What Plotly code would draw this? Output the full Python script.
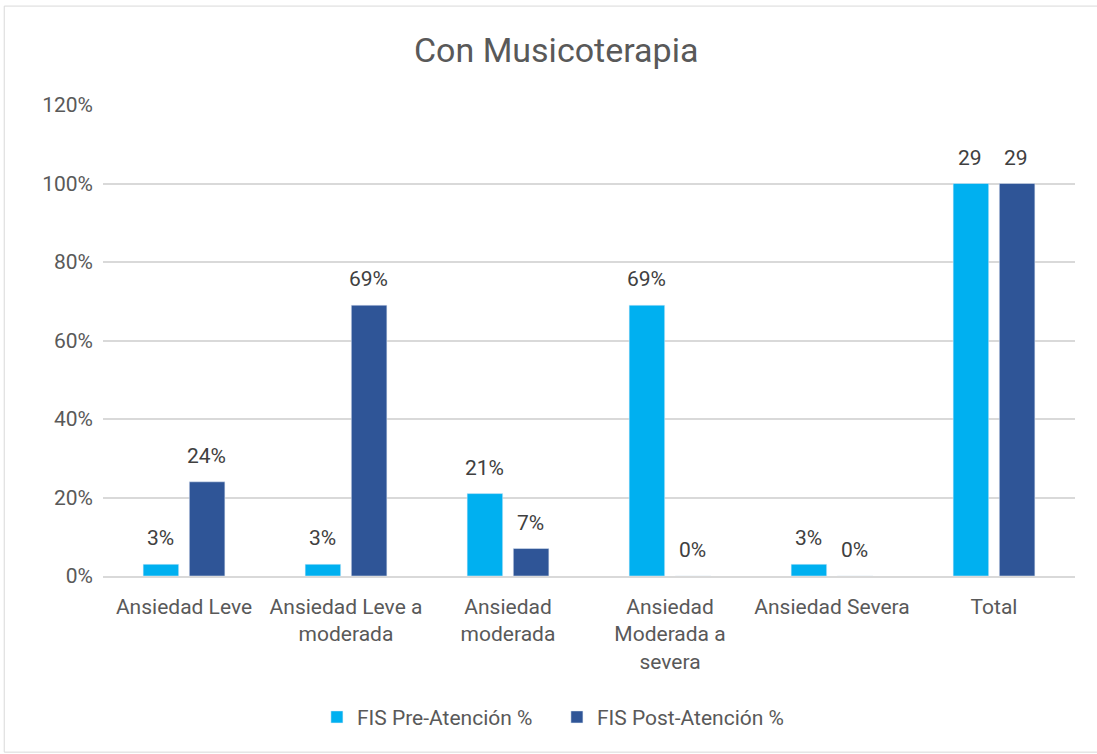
import plotly.graph_objects as go

categories = ["Ansiedad Leve", "Ansiedad Leve a<br>moderada", "Ansiedad<br>moderada",
              "Ansiedad<br>Moderada a<br>severa", "Ansiedad Severa", "Total"]
pre_values = [0.03, 0.03, 0.21, 0.69, 0.03, 1.00]
post_values = [0.24, 0.69, 0.07, 0.00, 0.00, 1.00]
pre_labels = ["3%", "3%", "21%", "69%", "3%", "29"]
post_labels = ["24%", "69%", "7%", "0%", "0%", "29"]
tick_vals = [0, 0.2, 0.4, 0.6, 0.8, 1.0, 1.2]
tick_text = ["0%", "20%", "40%", "60%", "80%", "100%", "120%"]

FONT = "Roboto, sans-serif"
TXT = "#595959"
LBL = "#404040"

fig = go.Figure()
fig.add_trace(go.Bar(name="FIS Pre-Atención %", x=categories, y=pre_values,
                     marker_color="#00B0F0"))
fig.add_trace(go.Bar(name="FIS Post-Atención %", x=categories, y=post_values,
                     marker_color="#2F5597"))

annotations = []
for cat, v, t in zip(categories, pre_values, pre_labels):
    annotations.append(dict(x=cat, y=v, xref="x", yref="y", text=t, showarrow=False,
                            xshift=-24, yshift=12, yanchor="bottom",
                            font=dict(size=21, color=LBL, family=FONT)))
for cat, v, t in zip(categories, post_values, post_labels):
    annotations.append(dict(x=cat, y=v, xref="x", yref="y", text=t, showarrow=False,
                            xshift=22, yshift=12, yanchor="bottom",
                            font=dict(size=21, color=LBL, family=FONT)))

fig.update_layout(
    width=1097, height=754,
    margin=dict(l=103, r=22, t=105, b=178),
    paper_bgcolor="white", plot_bgcolor="white",
    font=dict(family=FONT, color=TXT, size=21),
    title=dict(text="Con Musicoterapia", x=0.507, xanchor="center", y=0.933, yanchor="middle",
               font=dict(size=34, color=TXT, family=FONT)),
    barmode="group", bargap=0.43, bargroupgap=0.23,
    showlegend=True,
    legend=dict(orientation="h", x=0.467, xanchor="center", y=-0.30, yanchor="middle",
                font=dict(size=21, color=TXT, family=FONT), itemwidth=30, traceorder="normal",
                entrywidth=195, entrywidthmode="pixels"),
    annotations=annotations,
    xaxis=dict(showgrid=False, showline=True, linecolor="#D9D9D9", linewidth=1.5,
               tickfont=dict(size=21, color=TXT, family=FONT), ticks="",
               ticklabelstandoff=11),
    yaxis=dict(range=[0, 1.2], tickvals=tick_vals, ticktext=tick_text, showgrid=True,
               gridcolor="#D9D9D9", gridwidth=1.5, zeroline=False, showline=False,
               tickfont=dict(size=21, color=TXT, family=FONT), ticklabelstandoff=9),
    shapes=[dict(type="rect", xref="paper", yref="paper", x0=-0.1016, x1=1.04, y0=-0.374, y1=1.210,
                 line=dict(color="#D9D9D9", width=1), fillcolor="rgba(0,0,0,0)", layer="below")],
)

fig.write_html("out.html")
